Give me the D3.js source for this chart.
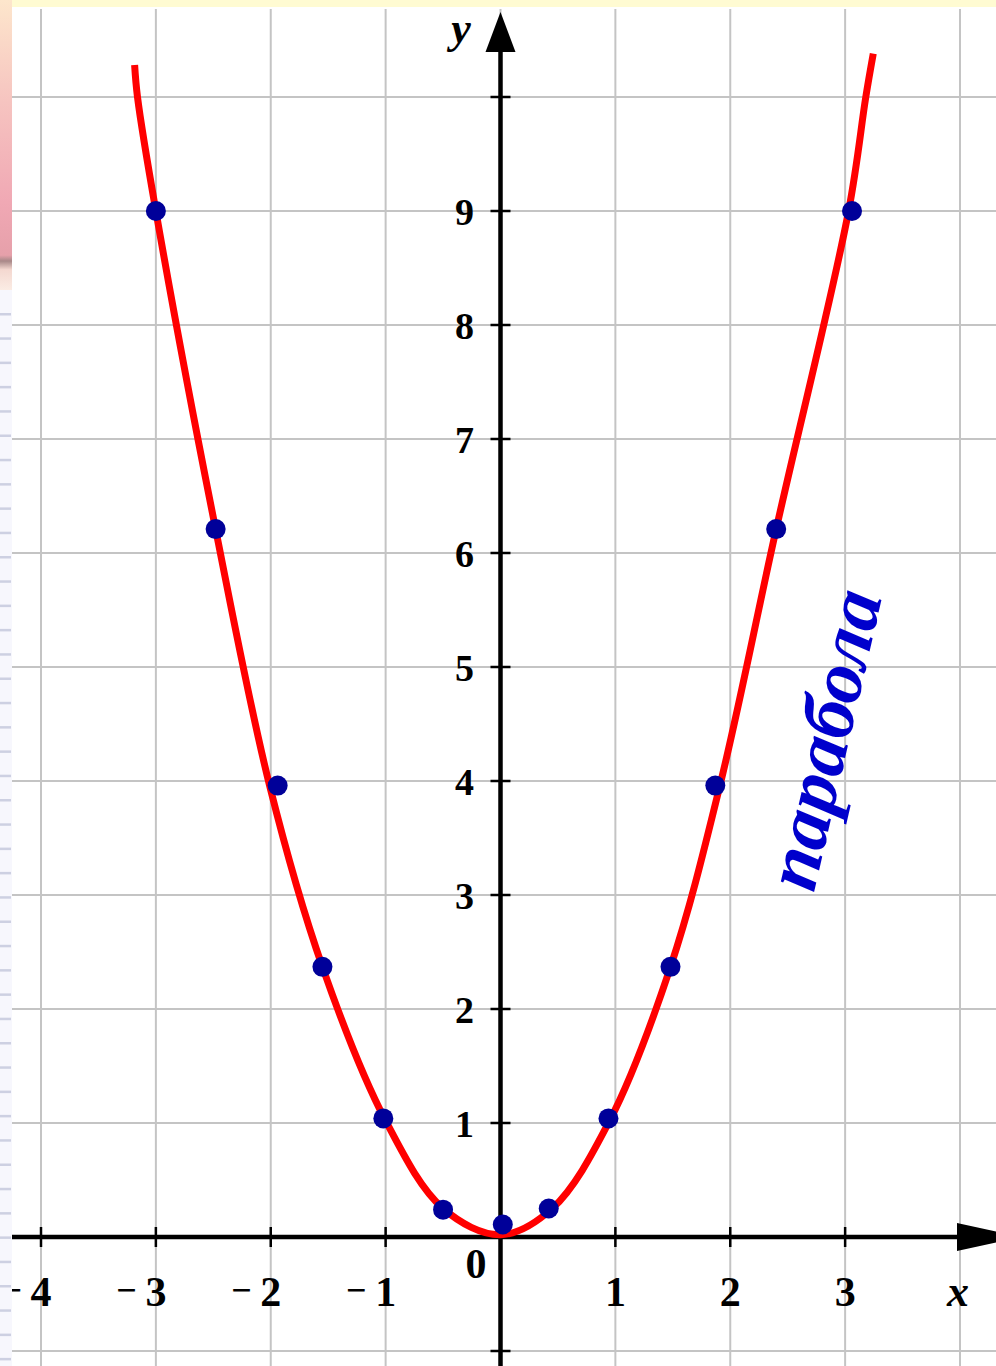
<!DOCTYPE html>
<html><head><meta charset="utf-8">
<script src="https://cdn.jsdelivr.net/npm/d3@7"></script>
<style>html,body{margin:0;padding:0;background:#fff;overflow:hidden}</style>
</head><body><svg id="c" width="996" height="1366"></svg>
<script>
// ---- data ----
const gridX = [-4,-3,-2,-1,0,1,2,3,4];
const gridY = [-1,0,1,2,3,4,5,6,7,8,9,10];
const xTickVals = [-4,-3,-2,-1,1,2,3];
const xTickLabels = ["4","3","2","1","1","2","3"];
const yTickVals = [-1,1,2,3,4,5,6,7,8,9,10];
const yLabelVals = [1,2,3,4,5,6,7,8,9];
const yLabelText = ["1","2","3","4","5","6","7","8","9"];
const curveX = [-3.185,-3.16,-3.0,-2.48,-2.01,-1.55,-1.0,-0.5,0.0,0.45,0.95,1.48,1.91,2.40,3.03,3.18,3.245];
const curveY = [10.28,10.0,9.0,6.21,3.96,2.37,1.02,0.25,0.02,0.25,1.02,2.37,3.96,6.21,9.0,10.0,10.38];
const dotX = [-3.0,-2.48,-1.94,-1.55,-1.02,-0.5,0.02,0.42,0.94,1.48,1.87,2.40,3.06];
const dotY = [9.0,6.21,3.96,2.37,1.04,0.24,0.11,0.25,1.04,2.37,3.96,6.21,9.0];
const curveName = "парабола";

// ---- drawing ----
const svg = d3.select("#c");
const W = 996, H = 1366;
const x = d3.scaleLinear().domain([-4,4]).range([41,960]);
const y = d3.scaleLinear().domain([0,9]).range([1237,211]);
const serif = "'Liberation Serif','Times New Roman',serif";

// top yellow strip
svg.append("rect").attr("x",0).attr("y",0).attr("width",W).attr("height",7).attr("fill","#fffbd2");

// grid
svg.append("g").selectAll("line").data(gridX).join("line")
  .attr("x1",d=>x(d)).attr("x2",d=>x(d)).attr("y1",9).attr("y2",H)
  .attr("stroke","#c4c4c4").attr("stroke-width",2);
svg.append("g").selectAll("line").data(gridY).join("line")
  .attr("x1",12).attr("x2",W).attr("y1",d=>y(d)).attr("y2",d=>y(d))
  .attr("stroke","#c4c4c4").attr("stroke-width",2);

// axes
const axisColor = "#000";
svg.append("line").attr("x1",x(0)).attr("x2",x(0)).attr("y1",40).attr("y2",H)
  .attr("stroke",axisColor).attr("stroke-width",4.5);
svg.append("line").attr("x1",0).attr("x2",970).attr("y1",y(0)).attr("y2",y(0))
  .attr("stroke",axisColor).attr("stroke-width",4.5);
// arrows
svg.append("path").attr("d",`M${x(0)},12 L${x(0)+15},52 L${x(0)-15},52 Z`).attr("fill",axisColor);
svg.append("path").attr("d",`M957,${y(0)-14} L1022,${y(0)} L957,${y(0)+14} Z`).attr("fill",axisColor);
// ticks
svg.append("g").selectAll("line").data(xTickVals).join("line")
  .attr("x1",d=>x(d)).attr("x2",d=>x(d)).attr("y1",y(0)-10).attr("y2",y(0)+10)
  .attr("stroke",axisColor).attr("stroke-width",2.5);
svg.append("g").selectAll("line").data(yTickVals).join("line")
  .attr("x1",x(0)-10).attr("x2",x(0)+10).attr("y1",d=>y(d)).attr("y2",d=>y(d))
  .attr("stroke",axisColor).attr("stroke-width",2.5);

// x labels
const xl = svg.append("g").attr("font-family",serif).attr("font-weight","bold").attr("font-size",42).attr("fill","#000");
xl.selectAll("text.d").data(xTickVals).join("text").attr("class","d")
  .attr("x",d=>x(d)).attr("y",1306).attr("text-anchor","middle")
  .text((d,i)=>xTickLabels[i]);
xl.selectAll("text.m").data(xTickVals.filter(d=>d<0)).join("text").attr("class","m")
  .attr("x",d=>x(d)-19).attr("y",1302).attr("text-anchor","end").attr("font-size",36)
  .text("−");
// zero
svg.append("text").attr("x",476).attr("y",1278).attr("text-anchor","middle")
  .attr("font-family",serif).attr("font-weight","bold").attr("font-size",42).text("0");
// y labels
svg.append("g").attr("font-family",serif).attr("font-weight","bold").attr("font-size",38)
  .selectAll("text").data(yLabelVals).join("text")
  .attr("x",474).attr("y",d=>y(d)+14).attr("text-anchor","end")
  .text((d,i)=>yLabelText[i]);
// axis names
svg.append("text").attr("x",958).attr("y",1306).attr("text-anchor","middle")
  .attr("font-family",serif).attr("font-style","italic").attr("font-weight","bold").attr("font-size",44).text("x");
svg.append("text").attr("x",461).attr("y",43).attr("text-anchor","middle")
  .attr("font-family",serif).attr("font-style","italic").attr("font-weight","bold").attr("font-size",44).text("y");

// curve
const pts = curveX.map((v,i)=>[v,curveY[i]]);
svg.append("path").datum(pts)
  .attr("d", d3.line().x(d=>x(d[0])).y(d=>y(d[1])).curve(d3.curveCatmullRom.alpha(0.5)))
  .attr("fill","none").attr("stroke","#ff0000").attr("stroke-width",7);

// dots
svg.append("g").selectAll("circle").data(dotX).join("circle")
  .attr("cx",d=>x(d)).attr("cy",(d,i)=>y(dotY[i])).attr("r",10).attr("fill","#000099");

// curve name
const t = svg.append("text").attr("text-anchor","middle")
  .attr("font-family",serif).attr("font-weight","bold").attr("font-style","italic")
  .attr("font-size",72).attr("fill","#0000cc")
  .attr("transform","translate(848,745) rotate(-77)").text(curveName);
const len = t.node().getComputedTextLength();
t.attr("font-size", 72*305/len);

// left strip
const defs = svg.append("defs");
const g = defs.append("linearGradient").attr("id","lg").attr("x1",0).attr("x2",0).attr("y1",0).attr("y2",1);
[[0,"#fde6cc"],[0.35,"#f6c4c0"],[0.7,"#f0a8b4"],[0.88,"#e6a0aa"],[0.9,"#a88888"],[0.93,"#f4d8d0"],[1,"#fbece4"]]
  .forEach(s=>g.append("stop").attr("offset",s[0]).attr("stop-color",s[1]));
svg.append("rect").attr("x",0).attr("y",0).attr("width",12).attr("height",290).attr("fill","url(#lg)");
svg.append("rect").attr("x",0).attr("y",290).attr("width",12).attr("height",H-290).attr("fill","#f7f7fd");
svg.append("g").selectAll("rect").data(d3.range(313,H,24.3)).join("rect")
  .attr("x",0).attr("y",d=>d).attr("width",11).attr("height",2.5).attr("fill","#cdd0e2");
</script></body></html>
